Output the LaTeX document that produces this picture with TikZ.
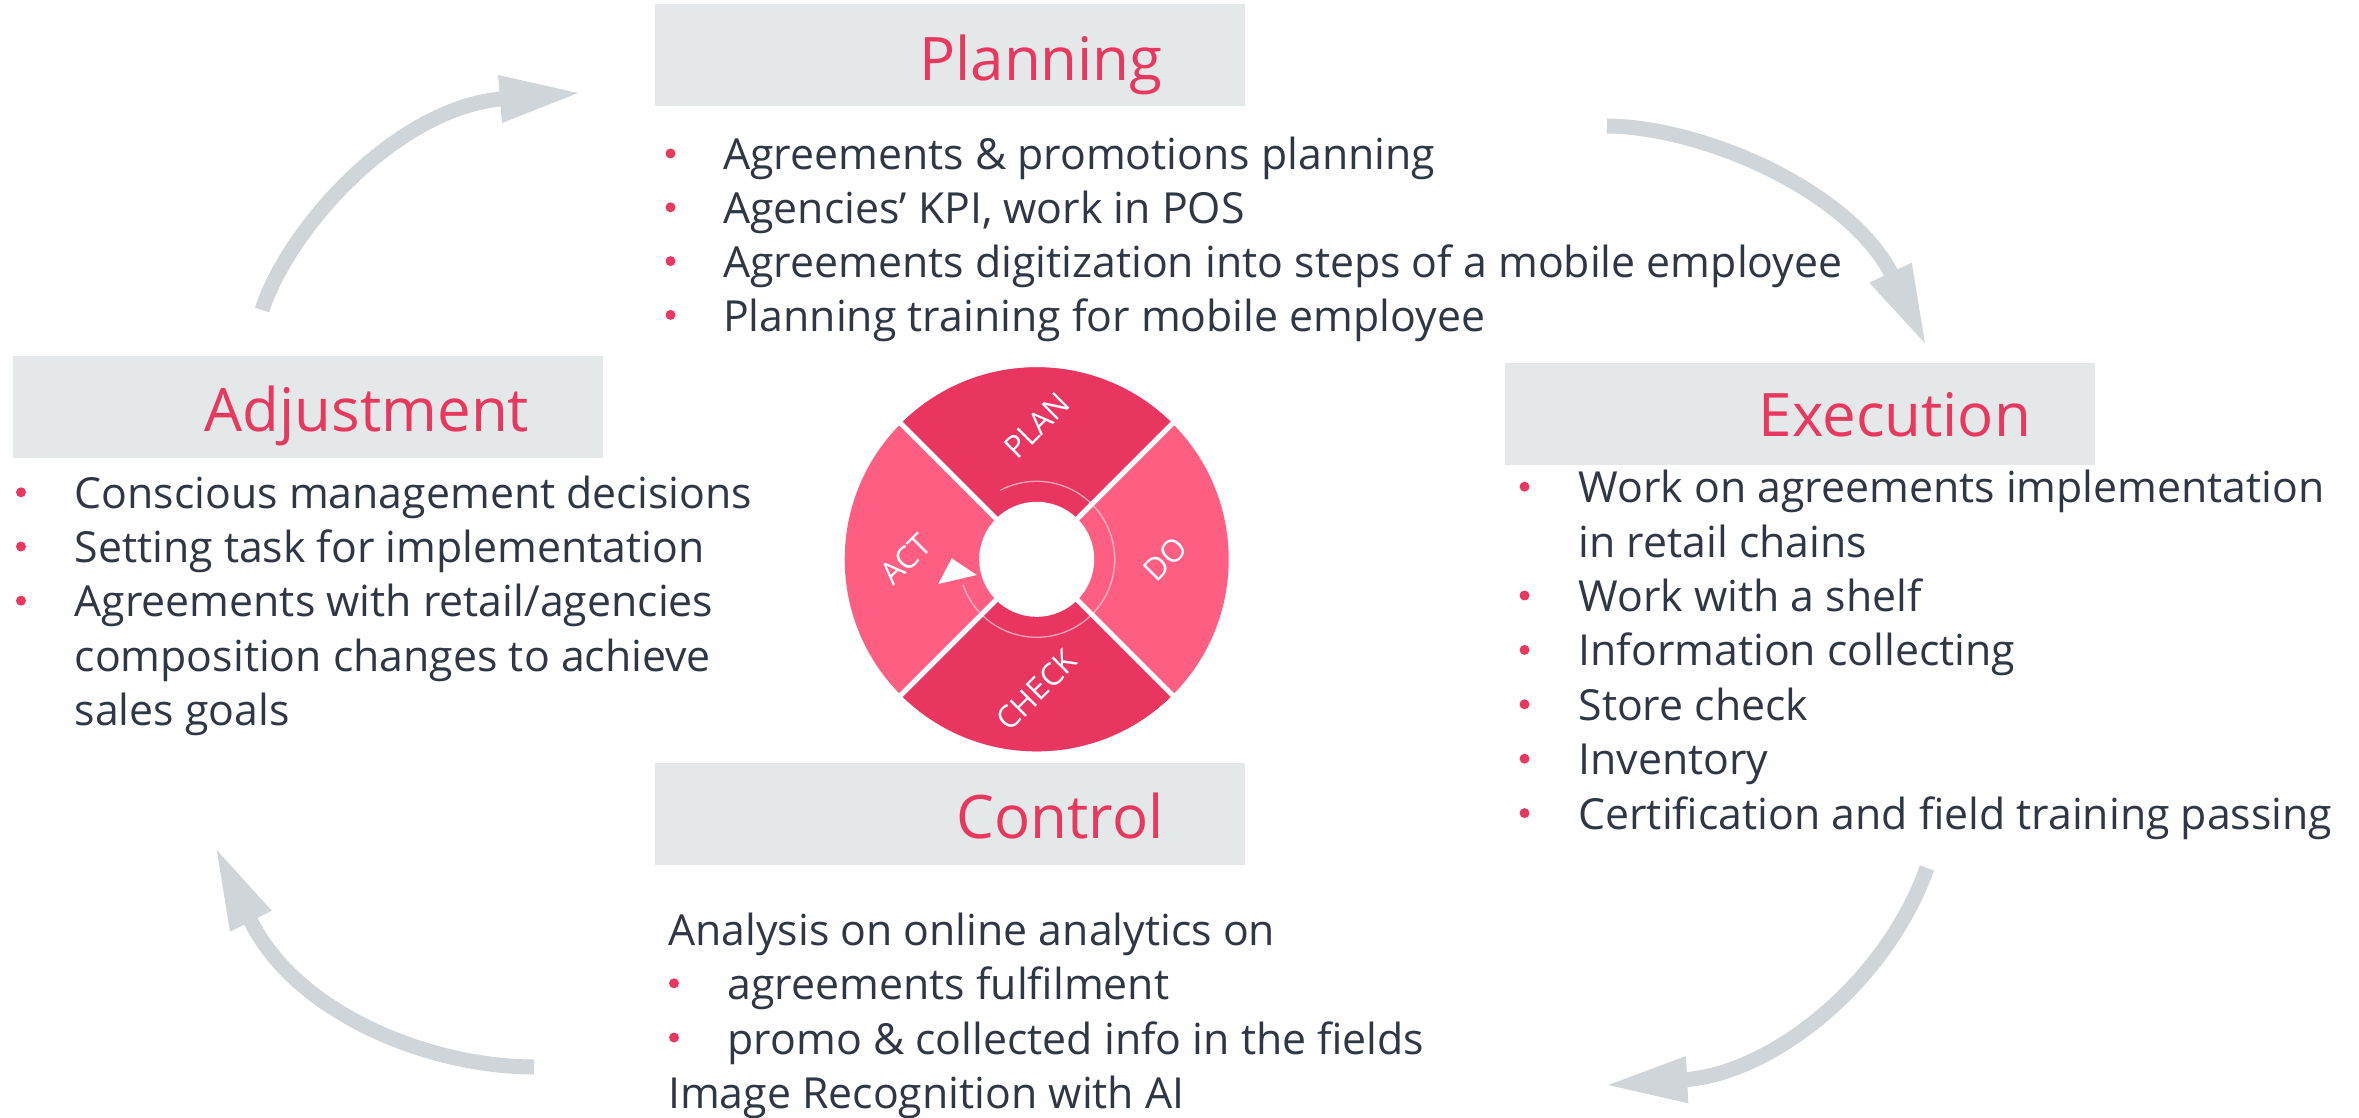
\documentclass[tikz,border=0pt]{standalone}
\usepackage{fontspec}
\setmainfont{Open Sans}
\definecolor{titlepink}{RGB}{232,56,96}
\definecolor{textdark}{RGB}{47,55,69}
\definecolor{boxgray}{RGB}{229,232,233}
\definecolor{arrowgray}{RGB}{208,213,218}
\definecolor{quaddark}{RGB}{232,54,97}
\definecolor{quadlight}{RGB}{255,94,131}
\begin{document}
\begin{tikzpicture}[x=1pt,y=-1pt,
  titlebox/.style={fill=boxgray,draw=none,anchor=north west,minimum width=590pt,minimum height=102pt,inner sep=0pt},
  titletxt/.style={anchor=base,inner sep=0pt,text=titlepink,font=\fontsize{60}{70}\selectfont},
  bodytxt/.style={anchor=base west,inner sep=0pt,text=textdark,font=\fontsize{42.8}{54}\selectfont},
  bulletdot/.style={fill=titlepink},
  qlabel/.style={text=white,inner sep=0pt,font=\fontsize{31}{36}\selectfont,rotate=45},
  shaft/.style={draw=arrowgray,line width=15pt,line cap=butt},
  headfill/.style={fill=arrowgray}]
\useasboundingbox (0,0) rectangle (2359,1118);
\fill[white] (0,0) rectangle (2359,1118);

% ---- boxes and titles
\node[titlebox] (pbox) at (655,4) {};
\node[titletxt] (ptitle) at (1041,81) {Planning};
\node[titlebox] (abox) at (13,356) {};
\node[titletxt] (atitle) at (367,431) {Adjustment};
\node[titlebox] (ebox) at (1505,363) {};
\node[titletxt] (etitle) at (1895,436.7) {Execution};
\node[titlebox] (cbox) at (655,763) {};
\node[titletxt] (ctitle) at (1060,838.5) {Control};

% ---- Planning bullets
\foreach \yy in {170,223.8,277.6,331.4} \fill[bulletdot] (670.5,\yy-16.5) circle[radius=5];
\node[bodytxt] (p1) at (723,170) {Agreements \& promotions planning};
\node[bodytxt] (p2) at (723,223.8) {Agencies’ KPI, work in POS};
\node[bodytxt] (p3) at (723,277.6) {Agreements digitization into steps of a mobile employee};
\node[bodytxt] (p4) at (723,331.4) {Planning training for mobile employee};

% ---- Adjustment bullets
\foreach \yy in {508.3,562.5,616.7} \fill[bulletdot] (21,\yy-16) circle[radius=5];
\node[bodytxt] (a1) at (74.5,508.3) {Conscious management decisions};
\node[bodytxt] (a2) at (74.5,562.5) {Setting task for implementation};
\node[bodytxt] (a3) at (74.5,616.7) {Agreements with retail/agencies};
\node[bodytxt] (a4) at (74.5,671) {composition changes to achieve};
\node[bodytxt] (a5) at (74.5,725.2) {sales goals};

% ---- Execution bullets
\foreach \yy in {502.7,611.5,665.9,720.3,774.7,829.1} \fill[bulletdot] (1524.5,\yy-16) circle[radius=5];
\node[bodytxt] (e1) at (1578.3,502.7) {Work on agreements implementation};
\node[bodytxt] (e2) at (1578.3,557.1) {in retail chains};
\node[bodytxt] (e3) at (1578.3,611.5) {Work with a shelf};
\node[bodytxt] (e4) at (1578.3,665.9) {Information collecting};
\node[bodytxt] (e5) at (1578.3,720.3) {Store check};
\node[bodytxt] (e6) at (1578.3,774.7) {Inventory};
\node[bodytxt] (e7) at (1578.3,829.1) {Certification and field training passing};

% ---- Control text
\node[bodytxt] (c1) at (668,945.5) {Analysis on online analytics on};
\foreach \yy in {999.8,1054} \fill[bulletdot] (674,\yy-16.5) circle[radius=5];
\node[bodytxt] (c2) at (727.5,999.8) {agreements fulfilment};
\node[bodytxt] (c3) at (727.5,1054) {promo \& collected info in the fields};
\node[bodytxt] (c4) at (668,1108.3) {Image Recognition with AI};

% ---- central wheel
\begin{scope}[shift={(1036.7,559.3)},yscale=-1]
  \fill[quadlight] (0,0) circle[radius=192];
  \fill[quaddark] (0,0) -- (45:192) arc[start angle=45,end angle=135,radius=192] -- cycle;
  \fill[quaddark] (0,0) -- (225:192) arc[start angle=225,end angle=315,radius=192] -- cycle;
  \foreach \a in {45,135,225,315} \draw[white,line width=5pt] (\a:50) -- (\a:194);
  \fill[white] (0,0) circle[radius=57.5];
  \draw[white,opacity=.55,line width=1.3pt] (118:78) arc[start angle=118,end angle=-161,radius=78];
  \node[qlabel] (qplan) at (90:134) {PLAN};
  \node[qlabel] (qdo) at (0:128) {DO};
  \node[qlabel] (qcheck) at (270:131) {CHECK};
  \node[qlabel] (qact) at (180:131) {ACT};
\end{scope}
\fill[white] (951.7,558.3) -- (976.7,575) -- (938.3,584) -- cycle;

% ---- gray cycle arrows
\coordinate (t1) at (262,310);  \coordinate (h1) at (503,98.8);
\draw[shaft] (t1) .. controls (290,225) and (399,107) .. (h1);
\fill[headfill] (498,75) -- (578,93) -- (502,123) -- cycle;

\coordinate (t2) at (1607,126); \coordinate (h2) at (1893,277);
\draw[shaft] (t2) .. controls (1705,127) and (1852,192) .. (h2);
\fill[headfill] (1869.3,282.7) -- (1925,343.3) -- (1911.7,262.7) -- cycle;

\coordinate (t3) at (1927,868); \coordinate (h3) at (1684,1079.8);
\draw[shaft] (t3) .. controls (1885,985) and (1770.6,1074) .. (h3);
\fill[headfill] (1686,1056) -- (1608.3,1085) -- (1688.3,1103.3) -- cycle;

\coordinate (t4) at (534,1067); \coordinate (h4) at (249.5,918.5);
\draw[shaft] (t4) .. controls (430,1067) and (295,1013.8) .. (h4);
\fill[headfill] (230,931.7) -- (216.7,850) -- (271.7,910.7) -- cycle;
\end{tikzpicture}
\end{document}
